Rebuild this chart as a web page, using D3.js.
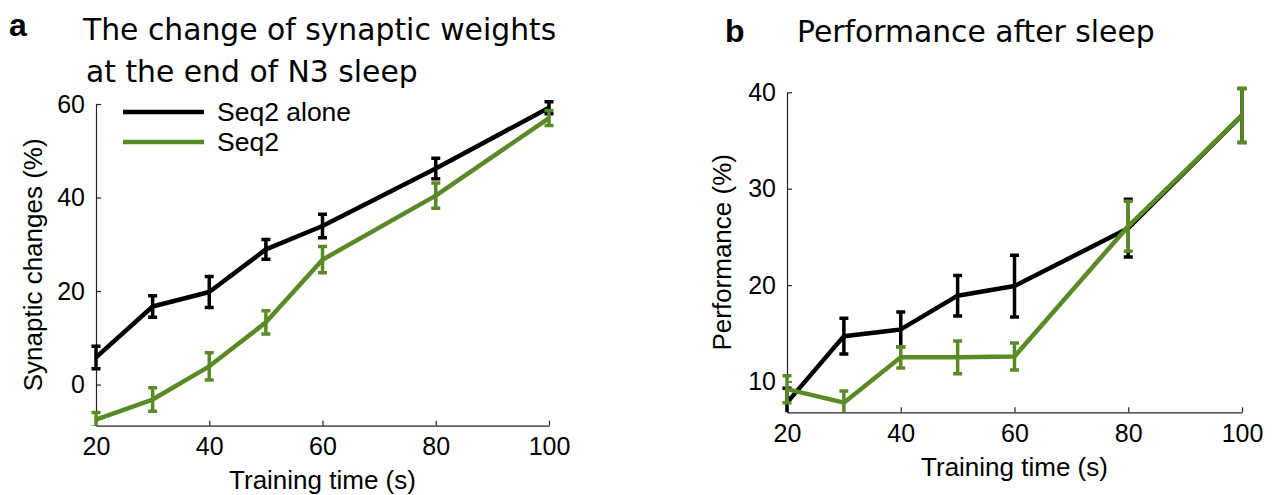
<!DOCTYPE html>
<html>
<head>
<meta charset="utf-8">
<script src="https://cdn.jsdelivr.net/npm/d3@7"></script>
<style>
  body { margin: 0; background: #fff; }
  svg { display: block; }
  .tick text { font-family: "Liberation Sans", Arial, sans-serif; font-size: 25px; fill: #000; }
  .domain, .tick line { stroke: #222; stroke-width: 1.2; }
</style>
</head>
<body>
<div id="fig"></div>
<script>
// training times (s)
var times = [20, 30, 40, 50, 60, 80, 100];

// panel a: synaptic changes (%)
var synAlone    = [5.8, 16.7, 19.8, 28.9, 33.9, 46.2, 59.2];
var synAloneErr = [2.4, 2.3, 3.3, 2.1, 2.5, 2.2, 1.3];
var synSeq2     = [-7.5, -3.2, 3.9, 13.3, 26.7, 40.4, 57.0];
var synSeq2Err  = [1.5, 2.5, 2.9, 2.5, 2.8, 2.7, 1.6];

// panel b: performance (%)
var perfAlone    = [7.8, 14.7, 15.4, 18.9, 19.9, 25.9, 37.6];
var perfAloneErr = [1.5, 1.85, 1.8, 2.1, 3.2, 3.0, 2.8];
var perfSeq2     = [9.2, 7.8, 12.5, 12.5, 12.6, 26.1, 37.6];
var perfSeq2Err  = [1.4, 1.2, 1.1, 1.7, 1.4, 2.6, 2.8];

var xTicks = [20, 40, 60, 80, 100];
var synTicks = [0, 20, 40, 60];
var perfTicks = [10, 20, 30, 40];

var black = "#000", green = "#5a8a26";

var svg = d3.select("#fig").append("svg")
    .attr("width", 1277).attr("height", 495);

function panel(opt) {
    var x = d3.scaleLinear().domain([20, 100]).range(opt.xr);
    var y = d3.scaleLinear().domain(opt.yd).range(opt.yr);
    var g = svg.append("g");

    var clipId = "clip" + opt.id;
    svg.append("clipPath").attr("id", clipId)
        .append("rect")
        .attr("x", opt.xr[0] - 20).attr("y", opt.yr[1] - 20)
        .attr("width", opt.xr[1] - opt.xr[0] + 40)
        .attr("height", opt.yr[0] - opt.yr[1] + 20);

    g.append("g")
        .attr("transform", "translate(0," + opt.yr[0] + ")")
        .call(d3.axisBottom(x).tickValues(xTicks).tickSize(-5).tickSizeOuter(0).tickPadding(12));
    g.append("g")
        .attr("transform", "translate(" + opt.xr[0] + ",0)")
        .call(d3.axisLeft(y).tickValues(opt.yTicks).tickSize(-5).tickSizeOuter(0).tickPadding(11));

    var plot = g.append("g").attr("clip-path", "url(#" + clipId + ")");

    opt.series.forEach(function (s) {
        var pts = times.map(function (t, i) { return { t: t, v: s.vals[i], e: s.errs[i] }; });
        plot.append("path")
            .datum(pts)
            .attr("fill", "none")
            .attr("stroke", s.color)
            .attr("stroke-width", 4.5)
            .attr("stroke-linejoin", "round")
            .attr("d", d3.line().x(function (d) { return x(d.t); }).y(function (d) { return y(d.v); }));

        var eb = plot.append("g").selectAll("g").data(pts).enter().append("g")
            .attr("stroke", s.color).attr("stroke-width", 3.5);
        eb.append("line")
            .attr("x1", function (d) { return x(d.t); }).attr("x2", function (d) { return x(d.t); })
            .attr("y1", function (d) { return y(d.v - d.e); }).attr("y2", function (d) { return y(d.v + d.e); });
        [-1, 1].forEach(function (sgn) {
            eb.append("line")
                .attr("x1", function (d) { return x(d.t) - 4.5; }).attr("x2", function (d) { return x(d.t) + 4.5; })
                .attr("y1", function (d) { return y(d.v + sgn * d.e); })
                .attr("y2", function (d) { return y(d.v + sgn * d.e); });
        });
    });

    // axis labels, centred on the axes
    g.append("text")
        .attr("x", (opt.xr[0] + opt.xr[1]) / 2).attr("y", opt.xLabelY)
        .attr("text-anchor", "middle")
        .style("font-family", "'Liberation Sans', Arial, sans-serif").style("font-size", "26px")
        .text("Training time (s)");
    g.append("text")
        .attr("transform", "translate(" + opt.yLabelX + "," + (opt.yr[0] + opt.yr[1]) / 2 + ") rotate(-90)")
        .attr("text-anchor", "middle")
        .style("font-family", "'Liberation Sans', Arial, sans-serif").style("font-size", "26px")
        .text(opt.yLabel);

    // panel letter and title
    g.append("text")
        .attr("x", opt.letterX).attr("y", opt.letterY)
        .style("font-family", "'Liberation Sans', Arial, sans-serif").style("font-size", "32px")
        .style("font-weight", "bold")
        .text(opt.letter);
    opt.title.forEach(function (line, i) {
        g.append("text")
            .attr("x", opt.titleX[i]).attr("y", opt.titleY[i])
            .style("font-family", "'DejaVu Sans', sans-serif").style("font-size", "29.8px")
            .text(line);
    });
    return { x: x, y: y, g: g };
}

var pa = panel({
    id: "a", xr: [96, 549], yd: [-8.8, 60], yr: [425.7, 104], yTicks: synTicks,
    series: [
        { vals: synAlone, errs: synAloneErr, color: black },
        { vals: synSeq2, errs: synSeq2Err, color: green }
    ],
    xLabelY: 489, yLabelX: 42, yLabel: "Synaptic changes (%)",
    letter: "a", letterX: 9, letterY: 36,
    title: ["The change of synaptic weights", "at the end of N3 sleep"],
    titleX: [83, 86], titleY: [40, 82]
});

panel({
    id: "b", xr: [787, 1242], yd: [6.8, 40], yr: [412.3, 92.3], yTicks: perfTicks,
    series: [
        { vals: perfAlone, errs: perfAloneErr, color: black },
        { vals: perfSeq2, errs: perfSeq2Err, color: green }
    ],
    xLabelY: 476, yLabelX: 731, yLabel: "Performance (%)",
    letter: "b", letterX: 725, letterY: 42,
    title: ["Performance after sleep"],
    titleX: [797], titleY: [42]
});

// legend in panel a
var legend = [
    { label: "Seq2 alone", color: black },
    { label: "Seq2", color: green }
];
var lg = pa.g.append("g").selectAll("g").data(legend).enter().append("g")
    .attr("transform", function (d, i) { return "translate(0," + (112 + i * 30) + ")"; });
lg.append("line").attr("x1", 123).attr("x2", 204).attr("y1", 0).attr("y2", 0)
    .attr("stroke", function (d) { return d.color; }).attr("stroke-width", 4.5);
lg.append("text").attr("x", 217).attr("y", 9)
    .style("font-family", "'Liberation Sans', Arial, sans-serif").style("font-size", "26.5px")
    .text(function (d) { return d.label; });
</script>
</body>
</html>
